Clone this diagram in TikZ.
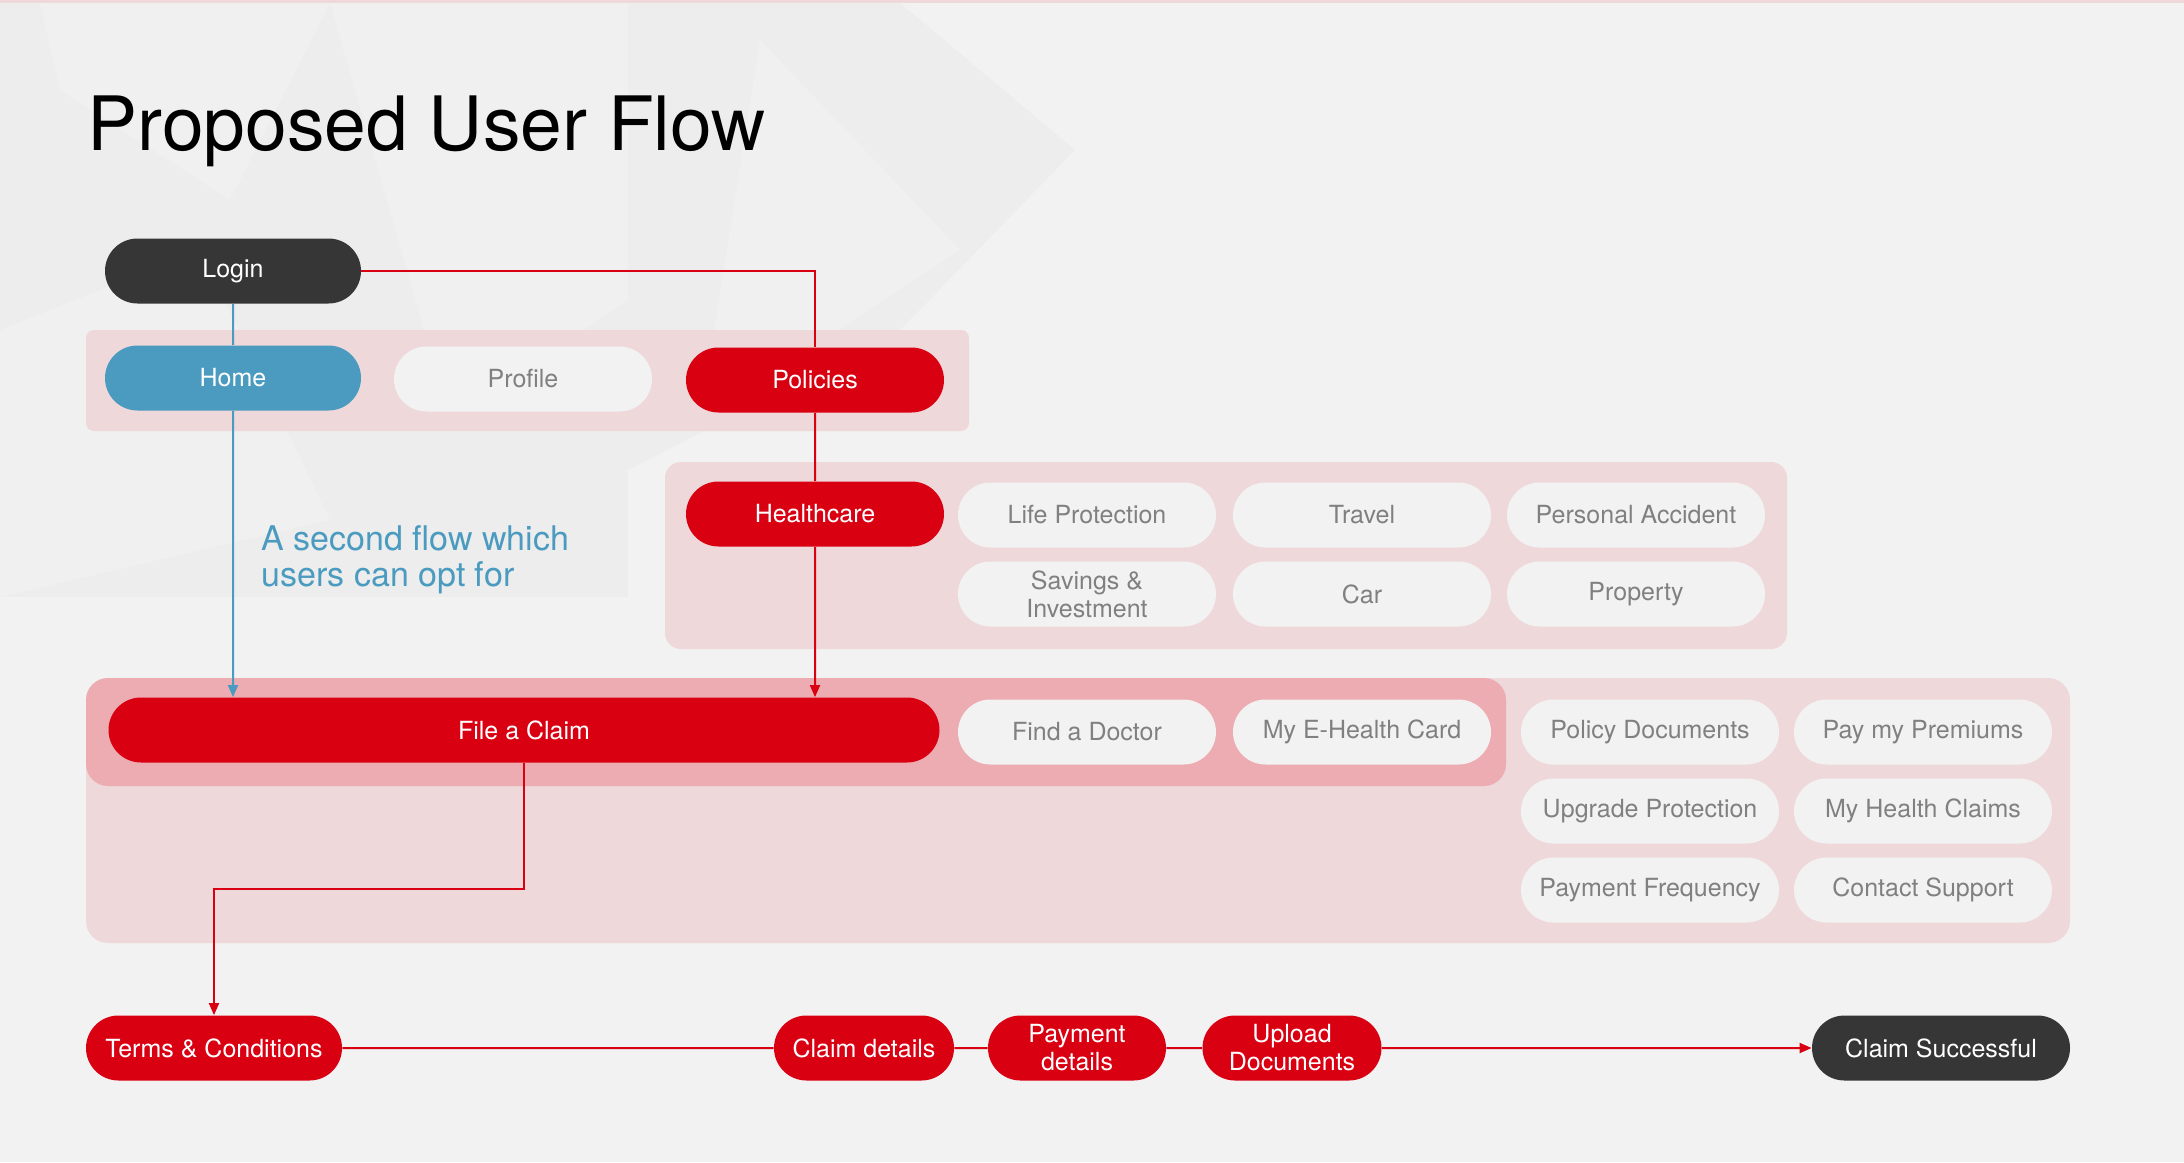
\documentclass[tikz,border=0pt]{standalone}
\usepackage{fontspec}
\setmainfont{TeX Gyre Heros}
\usepackage{xcolor}
\definecolor{bgrey}{RGB}{242,242,242}
\definecolor{facet}{RGB}{237,237,237}
\definecolor{facetlight}{RGB}{240,240,240}
\definecolor{brandred}{RGB}{217,0,18}
\definecolor{charcoal}{RGB}{54,54,54}
\definecolor{flowblue}{RGB}{74,155,191}
\definecolor{blush}{RGB}{238,216,218}
\definecolor{rosebox}{RGB}{236,172,177}
\definecolor{labelgrey}{RGB}{128,128,128}
\usetikzlibrary{positioning,arrows.meta,shapes.misc}

\tikzset{
	pill/.style={shape=rounded rectangle, minimum width=129pt, minimum height=32.5pt, inner sep=0pt, align=center, font=\fontsize{12.5}{14}\selectfont},
	redpill/.style={pill, fill=brandred, text=white},
	darkpill/.style={pill, fill=charcoal, text=white},
	bluepill/.style={pill, fill=flowblue, text=white},
	greypill/.style={pill, fill=bgrey, text=labelgrey},
	redline/.style={draw=brandred, line width=1pt},
	blueline/.style={draw=flowblue, line width=1pt},
	arrowhead/.style={-{Triangle[length=6pt,width=5pt]}},
}

\begin{document}
\begin{tikzpicture}[x=0.5pt,y=-0.5pt]
				\useasboundingbox (0,0) rectangle (2184,1162);
				\fill[bgrey] (0,0) rectangle (2184,1162);
				% faint facets behind the title
				\fill[facet] (0,3) rectangle (628,597);
				\fill[facetlight] (40,3) -- (330,3) -- (230,200) -- (60,90) -- cycle;
				\fill[facetlight] (0,330) -- (200,250) -- (330,520) -- (0,597) -- cycle;
				\fill[facetlight] (330,3) -- (628,3) -- (628,300) -- (450,420) -- cycle;
				\fill[facet] (628,3) -- (900,3) -- (1075,150) -- (900,330) -- (628,470) -- cycle;
				\fill[facetlight] (760,40) -- (960,250) -- (700,420) -- cycle;
				\fill[blush] (0,0) rectangle (2184,3);
				% pink groups
				\fill[blush, rounded corners=4pt] (86,330) rectangle (969,431);
				\fill[blush, rounded corners=8pt] (665,462) rectangle (1787,649);
				\fill[blush, rounded corners=11pt] (86,678) rectangle (2070,943);
				\fill[rosebox, rounded corners=11pt] (86,678) rectangle (1506,786);
				% title and note
				\node[anchor=base west, inner sep=0pt, font=\fontsize{37.5}{42}\selectfont] (title) at (87,150) {Proposed User Flow};
				\node[anchor=north west, inner sep=0pt, align=left, text=flowblue, font=\fontsize{17}{18}\selectfont] (optnote) at (261,525) {A second flow which\\users can opt for};
				% top menu
				\node[darkpill, minimum width=128pt] (login) at (233,271) {Login};
				\node[bluepill, minimum width=128pt] (home) at (233,378) {Home};
				\node[greypill] (profile) at (523,379) {Profile};
				\node[redpill] (policies) at (815,380) {Policies};
				% policy types
				\node[redpill] (healthcare) at (815,514) {Healthcare};
				\node[greypill] (life) at (1087,515) {Life Protection};
				\node[greypill] (travel) at (1362,515) {Travel};
				\node[greypill] (accident) at (1636,515) {Personal Accident};
				\node[greypill] (savings) at (1087,594) {Savings \&\\Investment};
				\node[greypill] (car) at (1362,594) {Car};
				\node[greypill] (property) at (1636,594) {Property};
				% healthcare options
				\node[redpill, minimum width=415.5pt] (fileclaim) at (524,730) {File a Claim};
				\node[greypill] (doctor) at (1087,732) {Find a Doctor};
				\node[greypill] (ehealth) at (1362,732) {My E-Health Card};
				\node[greypill] (poldocs) at (1650,732) {Policy Documents};
				\node[greypill] (premiums) at (1923,732) {Pay my Premiums};
				\node[greypill] (upgrade) at (1650,811) {Upgrade Protection};
				\node[greypill] (healthclaims) at (1923,811) {My Health Claims};
				\node[greypill] (frequency) at (1650,890) {Payment Frequency};
				\node[greypill] (support) at (1923,890) {Contact Support};
				% claim steps
				\node[redpill, minimum width=128pt] (terms) at (214,1048) {Terms \& Conditions};
				\node[redpill, minimum width=90pt] (claimdetails) at (864,1048) {Claim details};
				\node[redpill, minimum width=89pt] (paydetails) at (1077,1048) {Payment\\details};
				\node[redpill, minimum width=89.5pt] (upload) at (1292,1048) {Upload\\Documents};
				\node[darkpill] (success) at (1941,1048) {Claim Successful};
				% connectors
				\draw[blueline] (login) -- (home);
				\draw[blueline, arrowhead] (home) -- (home |- fileclaim.north);
				\draw[redline] (login.east) -| (policies.north);
				\draw[redline] (policies) -- (healthcare);
				\draw[redline, arrowhead] (healthcare) -- (healthcare |- fileclaim.north);
				\draw[redline, arrowhead] (fileclaim.south) -- ++(0,126) -| (terms.north);
				\draw[redline] (terms) -- (claimdetails);
				\draw[redline] (claimdetails) -- (paydetails);
				\draw[redline] (paydetails) -- (upload);
				\draw[redline, arrowhead] (upload) -- (success);
			\end{tikzpicture}
\end{document}
